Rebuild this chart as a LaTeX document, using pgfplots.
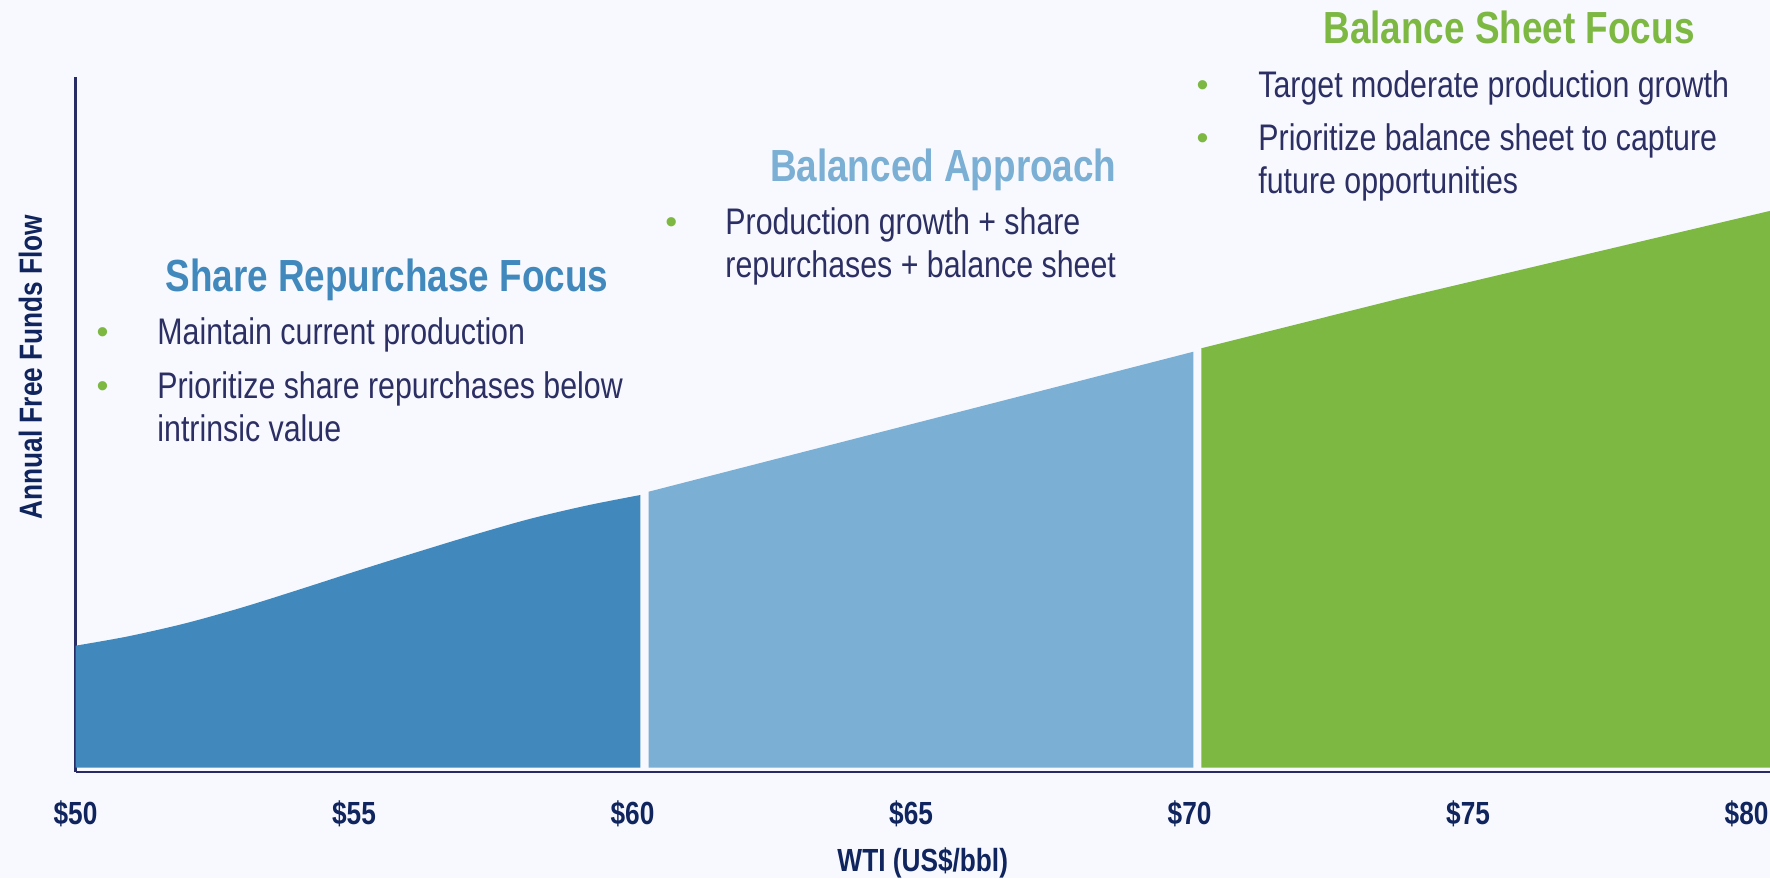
\documentclass[border=0pt]{standalone}
\usepackage{pgfplots}
\pgfplotsset{compat=1.18}
\usepackage{fontspec}
\setmainfont{Liberation Sans}[FakeStretch=0.82]
\newfontfamily\bulletfamily{Liberation Sans}
\definecolor{bgc}{RGB}{248,249,254}
\definecolor{dblue}{RGB}{65,137,189}
\definecolor{lblue}{RGB}{123,175,212}
\definecolor{lgreen}{RGB}{125,184,67}
\definecolor{navytext}{RGB}{44,47,99}
\definecolor{ticknavy}{RGB}{16,36,94}
\definecolor{axisnavy}{RGB}{40,44,100}
\newcommand{\hfont}{\bfseries\fontsize{22.5pt}{27pt}\selectfont}
\newcommand{\bfont}{\fontsize{18.5pt}{22pt}\selectfont}
\newcommand{\ufont}{\bulletfamily\fontsize{17pt}{22pt}\selectfont}
\newcommand{\lfont}{\bfseries\fontsize{16pt}{19pt}\selectfont}
\begin{document}
\begin{tikzpicture}
\fill[bgc] (0,0) rectangle (885pt,439pt);
\begin{axis}[
  at={(37.75pt,53pt)}, anchor=south west,
  scale only axis, width=847.25pt, height=347.6pt,
  xmin=50, xmax=80.42, ymin=-4.5, ymax=690.7,
  axis x line=bottom, axis y line=left,
  axis line style={-, draw=axisnavy, line width=1.1pt},
  xtick={50,55,60,65,70,75,80},
  xticklabels={\$50,\$55,\$60,\$65,\$70,\$75,\$80},
  ytick=\empty,
  major tick length=0pt,
  xticklabel style={font=\lfont, text=ticknavy, anchor=base, yshift=-26pt},
  xlabel={WTI (US\$/bbl)},
  xlabel style={at={(axis description cs:0.5,-0.1438)}, anchor=base, font=\lfont, text=ticknavy},
  ylabel={Annual Free Funds Flow},
  ylabel style={at={(axis description cs:-0.01977,0.5826)}, anchor=base, font=\lfont, text=ticknavy},
]
\addplot[fill=dblue, draw=none, smooth] coordinates {(50,121.8) (50.93,131) (51.96,144) (52.99,160) (54.02,178) (55.05,196.5) (56.08,214.5) (57.11,232) (58.15,248.5) (59.18,262) (60.14,272.5)} \closedcycle;
\addplot[fill=lblue, draw=none] coordinates {(60.29,275.8) (70.07,415.8)} \closedcycle;
\addplot[fill=lgreen, draw=none] coordinates {(70.21,419.2) (73.78,469.1) (80.42,556.6)} \closedcycle;
\end{axis}
\begin{scope}[yshift=439pt, x=0.5pt, y=-0.5pt]
% Share Repurchase Focus
\node[anchor=base west, inner sep=0, text=dblue, font=\hfont] at (165,291.7) {Share Repurchase Focus};
\node[anchor=base, inner sep=0, text=lgreen, font=\ufont] at (102.7,344) {\textbullet};
\node[anchor=base west, inner sep=0, text=navytext, font=\bfont] at (157,345) {Maintain current production};
\node[anchor=base, inner sep=0, text=lgreen, font=\ufont] at (102.7,397.3) {\textbullet};
\node[anchor=base west, inner sep=0, text=navytext, font=\bfont] at (157,398.3) {Prioritize share repurchases below};
\node[anchor=base west, inner sep=0, text=navytext, font=\bfont] at (157,441.7) {intrinsic value};
% Balanced Approach
\node[anchor=base west, inner sep=0, text=lblue, font=\hfont] at (769.6,181.7) {Balanced Approach};
\node[anchor=base, inner sep=0, text=lgreen, font=\ufont] at (671.4,234) {\textbullet};
\node[anchor=base west, inner sep=0, text=navytext, font=\bfont] at (725,235) {Production growth + share};
\node[anchor=base west, inner sep=0, text=navytext, font=\bfont] at (725,278) {repurchases + balance sheet};
% Balance Sheet Focus
\node[anchor=base west, inner sep=0, text=lgreen, font=\hfont] at (1323,43.5) {Balance Sheet Focus};
\node[anchor=base, inner sep=0, text=lgreen, font=\ufont] at (1202.6,97) {\textbullet};
\node[anchor=base west, inner sep=0, text=navytext, font=\bfont] at (1258,98) {Target moderate production growth};
\node[anchor=base, inner sep=0, text=lgreen, font=\ufont] at (1202.6,150) {\textbullet};
\node[anchor=base west, inner sep=0, text=navytext, font=\bfont] at (1258,151) {Prioritize balance sheet to capture};
\node[anchor=base west, inner sep=0, text=navytext, font=\bfont] at (1258,194) {future opportunities};
\end{scope}
\pgfresetboundingbox
\useasboundingbox (0,0) rectangle (885pt,439pt);
\end{tikzpicture}
\end{document}
